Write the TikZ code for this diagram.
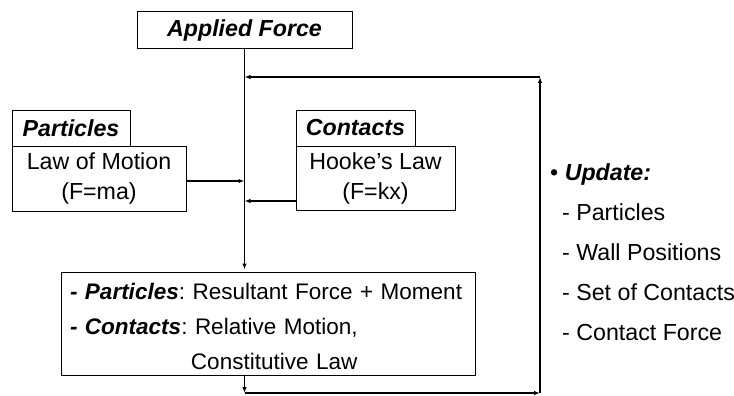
\documentclass[tikz,border=0pt]{standalone}
\usepackage{fontspec}
\setmainfont{Liberation Sans}
\usetikzlibrary{arrows.meta,positioning}

\begin{document}
\begin{tikzpicture}[x=1pt,y=-1pt,
	>={Latex[length=6pt,width=4.5pt]},
	box/.style={draw,line width=1pt,inner sep=0pt,align=center,font=\fontsize{23.2}{30}\selectfont},
	link/.style={line width=1.3pt}]
	\useasboundingbox (0,0) rectangle (734,396);
	
	% boxes
	\node[box,minimum width=215pt,minimum height=37pt] (applied) at (244.5,30.5) {\textbf{\textit{Applied Force}}};
	\node[box,minimum width=118pt,minimum height=36pt] (parttab) at (71,128) {\textbf{\textit{Particles}}};
	\node[box,minimum width=174pt,minimum height=65pt] (law) at (99,178.5) {Law of Motion\\(F=ma)};
	\node[box,minimum width=119pt,minimum height=36pt] (conttab) at (355.5,128) {\textbf{\textit{Contacts}}};
	\node[box,minimum width=159pt,minimum height=64pt] (hooke) at (375.5,178) {Hooke’s Law\\(F=kx)};
	\node[box,align=left,text width=396pt,inner xsep=9pt,minimum height=103pt,font=\fontsize{22.5}{35}\selectfont\frenchspacing] (result) at (268,323.5)
		{\rule{0pt}{22pt}\mbox{\textbf{\textit{- Particles}}: Resultant Force + Moment}\\
		 \mbox{\textbf{\textit{- Contacts}}: Relative Motion,}\\
		 \hspace*{121pt}Constitutive Law};
	
	% update list
	\node[anchor=west,align=left,inner sep=0pt,font=\fontsize{23.2}{40}\selectfont] (update) at (550,252)
		{\textbullet\ \textbf{\textit{Update:}}\\
		 \hspace*{12pt}- Particles\\
		 \hspace*{12pt}- Wall Positions\\
		 \hspace*{12pt}- Set of Contacts\\
		 \hspace*{12pt}- Contact Force};
	
	% loop corners
	\coordinate (bl) at (applied.south |- 0,393);
	\coordinate (br) at (540,393);
	\coordinate (tr) at (540,77);
	\coordinate (tl) at (applied.south |- tr);
	
	% connectors
	\draw[link,->,shorten >=2pt] (applied.south) -- (applied.south |- result.north);
	\draw[link,->] ([yshift=-2.5pt]law.east) -- ([yshift=-2.5pt]law.east -| applied.south);
	\draw[link,->] ([yshift=-23pt]hooke.west) -- ([yshift=-23pt]hooke.west -| applied.south);
	\draw[link,->] (applied.south |- result.south) -- (bl);
	\draw[link,->] (bl) -- (br);
	\draw[link,->] (br) -- (tr);
	\draw[link,->] (tr) -- (tl);
\end{tikzpicture}
\end{document}
